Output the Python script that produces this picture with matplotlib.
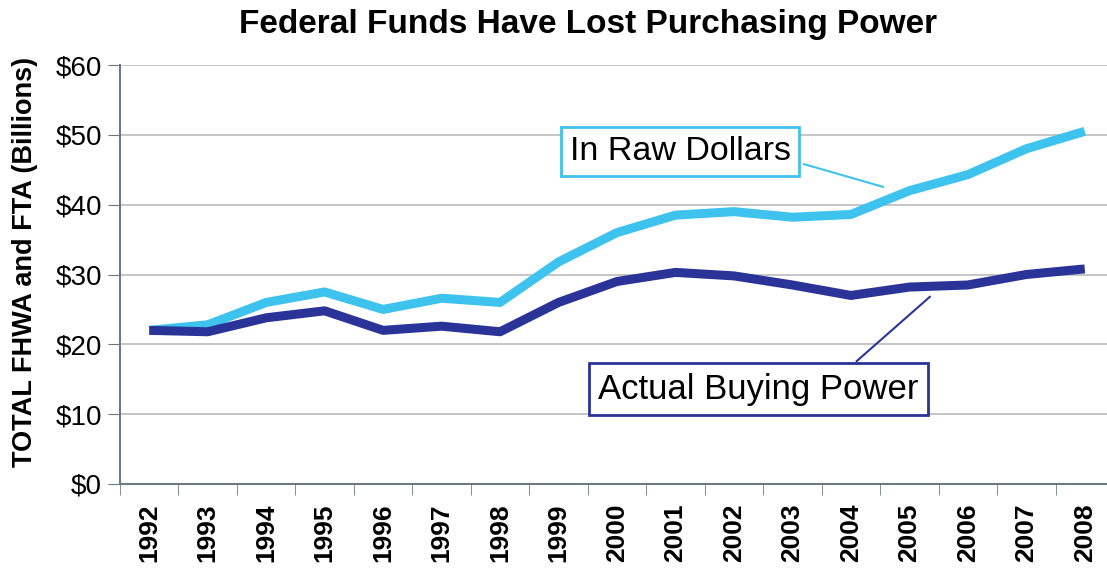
import matplotlib
matplotlib.use("Agg")
import matplotlib.pyplot as plt
import numpy as np

years = ["1992", "1993", "1994", "1995", "1996", "1997", "1998", "1999", "2000",
         "2001", "2002", "2003", "2004", "2005", "2006", "2007", "2008"]
raw_dollars = [22.0, 22.8, 26.0, 27.5, 25.0, 26.6, 26.0, 31.8, 36.0,
               38.5, 39.0, 38.2, 38.6, 42.0, 44.3, 48.0, 50.5]
buying_power = [22.0, 21.8, 23.8, 24.8, 22.0, 22.6, 21.8, 26.0, 29.0,
                30.3, 29.8, 28.5, 27.0, 28.2, 28.5, 30.0, 30.8]
yticks = [0, 10, 20, 30, 40, 50, 60]
ytick_labels = ["$0", "$10", "$20", "$30", "$40", "$50", "$60"]

plt.rcParams['font.family'] = ['Liberation Sans', 'DejaVu Sans']

W, H = 1107, 579
fig = plt.figure(figsize=(W / 100, H / 100), dpi=100)
left = 120 / W
right = 1114 / W
bottom = 1 - 484 / H
top = 1 - 65 / H
ax = fig.add_axes([left, bottom, right - left, top - bottom])

light = "#3EC3EE"
dark = "#2A3498"
grey = "#6a7a80"
x = np.arange(len(years))
ax.plot(x, raw_dollars, color=light, lw=6.5, solid_capstyle="butt", zorder=3)
ax.plot(x, buying_power, color=dark, lw=6.5, solid_capstyle="butt", zorder=3)

ax.set_xlim(-0.5, len(years) - 0.5)
ax.set_ylim(0, 60)
ax.set_yticks(yticks)
ax.set_yticklabels(ytick_labels, fontsize=20)
ax.set_xticks(x)
ax.set_xticklabels(years, rotation=90, fontsize=19, fontweight="bold")
ax.set_xticks(np.arange(-0.5, len(years), 1), minor=True)
ax.tick_params(axis="x", which="major", length=0, pad=14)
ax.tick_params(axis="x", which="minor", length=8, color=grey, direction="out")
ax.tick_params(axis="y", length=9, color=grey, direction="out", pad=4)

ax.grid(axis="y", color="#bbbbbb", lw=1.2, zorder=0)
ax.set_axisbelow(True)
for s in ["top", "right"]:
    ax.spines[s].set_visible(False)
ax.spines["left"].set_color(grey)
ax.spines["left"].set_linewidth(1.5)
ax.spines["bottom"].set_color(grey)
ax.spines["bottom"].set_linewidth(1.5)

fig.text(25 / W, 1 - 262 / H, "TOTAL FHWA and FTA (Billions)", rotation=90,
         ha="center", va="center", fontsize=19.5, fontweight="bold")

fig.text(588 / W, 1 - 24 / H, "Federal Funds Have Lost Purchasing Power",
         ha="center", va="center", fontsize=24, fontweight="bold")

# callout for the raw-dollar line
ax.text(9.08, 47.6, "In Raw Dollars", fontsize=24.5, ha="center", va="center",
        bbox=dict(boxstyle="square,pad=0.26", fc="white", ec=light, lw=2), zorder=5)
ax.plot([11.2, 12.55], [45.8, 42.55], color=light, lw=1.5, zorder=4)

# callout for the buying-power line
ax.text(10.42, 13.6, "Actual Buying Power", fontsize=25, ha="center", va="center",
        bbox=dict(boxstyle="square,pad=0.27", fc="white", ec=dark, lw=2), zorder=5)
ax.plot([12.1, 13.35], [17.6, 26.8], color=dark, lw=1.5, zorder=4)

fig.savefig("out.png", dpi=100)
